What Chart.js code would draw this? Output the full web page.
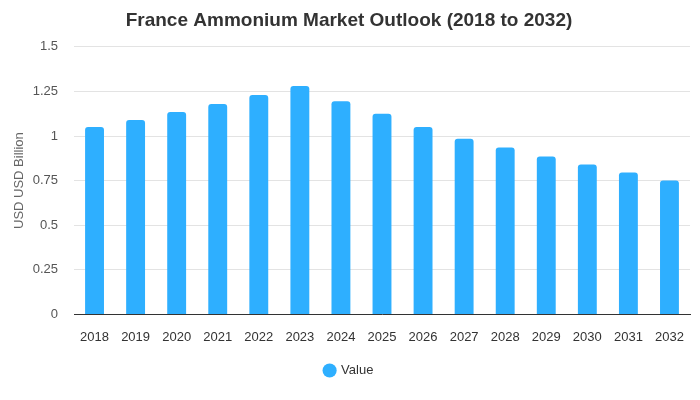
<!DOCTYPE html>
<html>
<head>
<meta charset="utf-8">
<script src="https://cdn.jsdelivr.net/npm/chart.js@4"></script>
<style>
  html, body { margin: 0; padding: 0; background: #fff; }
  #wrap { width: 700px; height: 400px; }
</style>
</head>
<body>
<div id="wrap"><canvas id="chart"></canvas></div>
<script>
const years = ['2018', '2019', '2020', '2021', '2022', '2023', '2024', '2025', '2026', '2027', '2028', '2029', '2030', '2031', '2032'];
const values = [1.05, 1.09, 1.135, 1.18, 1.23, 1.28, 1.195, 1.125, 1.05, 0.985, 0.935, 0.885, 0.84, 0.795, 0.75];
const yTicks = [0, 0.25, 0.5, 0.75, 1, 1.25, 1.5];

const ctx = document.getElementById('chart').getContext('2d');
new Chart(ctx, {
    type: 'bar',
    data: {
        labels: years,
        datasets: [{
            label: 'Value',
            data: values,
            backgroundColor: '#2eafff',
            borderRadius: 3,
            borderSkipped: 'bottom',
            barPercentage: 0.46,
            categoryPercentage: 1,
        }]
    },
    options: {
        responsive: true,
        maintainAspectRatio: false,
        animation: false,
        layout: { padding: { left: 8, right: 10, top: 4, bottom: 13 } },
        plugins: {
            title: {
                display: true,
                text: 'France Ammonium Market Outlook (2018 to 2032)',
                color: '#333',
                font: { family: 'Arial, Liberation Sans', size: 19, weight: 'bold' },
                padding: { top: 5, bottom: 15 }
            },
            legend: {
                position: 'bottom',
                labels: {
                    usePointStyle: true,
                    pointStyle: 'circle',
                    boxWidth: 10,
                    boxHeight: 10,
                    color: '#333',
                    font: { family: 'Arial, Liberation Sans', size: 13 },
                    padding: 4
                }
            },
            tooltip: { enabled: false }
        },
        scales: {
            x: {
                grid: { display: false, drawTicks: false },
                border: { color: '#333' },
                ticks: { color: '#333', font: { family: 'Arial, Liberation Sans', size: 13 }, padding: 15 }
            },
            y: {
                min: 0,
                max: 1.5,
                afterBuildTicks: axis => { axis.ticks = yTicks.map(v => ({ value: v })); },
                afterFit: axis => { axis.width = 66; },
                grid: { color: '#e3e3e3', drawTicks: false },
                border: { display: false },
                ticks: {
                    color: '#555',
                    font: { family: 'Arial, Liberation Sans', size: 13 },
                    padding: 16,
                    callback: v => String(v)
                },
                title: {
                    display: true,
                    text: 'USD USD Billion',
                    color: '#666',
                    font: { family: 'Arial, Liberation Sans', size: 13 }
                }
            }
        }
    }
});
</script>
</body>
</html>
